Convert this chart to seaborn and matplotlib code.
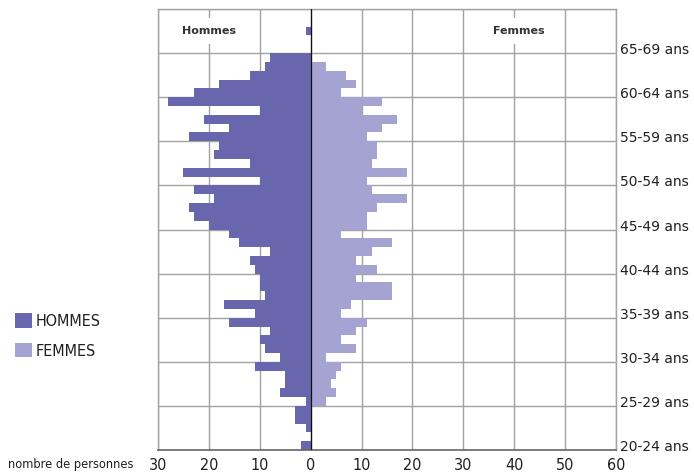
import numpy as np
import pandas as pd
import matplotlib
matplotlib.use('Agg')
import matplotlib.pyplot as plt
from matplotlib import font_manager
from matplotlib.patches import Patch
import seaborn as sns

ages = list(range(20, 70))
hommes = [2, 0, 1, 3, 3,
          1, 6, 5, 5, 11,
          6, 9, 10, 8, 16,
          11, 17, 9, 10, 10,
          11, 12, 8, 14, 16,
          20, 23, 24, 19, 23,
          10, 25, 12, 19, 18,
          24, 16, 21, 10, 28,
          23, 18, 12, 9, 8,
          0, 0, 1, 0, 0]
femmes = [0, 0, 0, 0, 0,
          3, 5, 4, 5, 6,
          3, 9, 6, 9, 11,
          6, 8, 16, 16, 9,
          13, 9, 12, 16, 6,
          11, 11, 13, 19, 12,
          11, 19, 12, 13, 13,
          11, 14, 17, 10, 14,
          6, 9, 7, 3, 0,
          0, 0, 0, 0, 0]
age_groups = ['20-24 ans', '25-29 ans', '30-34 ans', '35-39 ans', '40-44 ans',
              '45-49 ans', '50-54 ans', '55-59 ans', '60-64 ans', '65-69 ans']
x_ticks = [-30, -20, -10, 0, 10, 20, 30, 40, 50, 60]

df = pd.DataFrame({'age': ages,
                   'hommes': [-v for v in hommes],
                   'femmes': femmes})

col_h = '#6866ac'
col_f = '#a5a3d1'
grid_col = '#a3a3a3'
txt_col = '#231f20'

sns.set_style('white')
plt.rcParams['font.family'] = ['DejaVu Sans']

# the original uses a condensed face; take one if the system has it
narrow_file = None
for f in font_manager.fontManager.ttflist:
    is_narrow = ('Narrow' in f.name or 'Condensed' in f.name
                 or f.stretch in ('condensed', 'semi-condensed'))
    if is_narrow and f.weight in ('normal', 400, 'regular') and f.style == 'normal':
        narrow_file = f.fname
        break


def narrow(size):
    if narrow_file:
        return font_manager.FontProperties(fname=narrow_file, size=size)
    return font_manager.FontProperties(family='DejaVu Sans', size=size * 0.9)


fig, ax = plt.subplots(figsize=(6.94, 4.74), dpi=100)
fig.subplots_adjust(left=0.2277, right=0.8876, top=0.981, bottom=0.0506)

sns.barplot(data=df, x='hommes', y='age', orient='y', native_scale=True,
            width=1, color=col_h, saturation=1, linewidth=0, errorbar=None,
            ax=ax, zorder=2)
sns.barplot(data=df, x='femmes', y='age', orient='y', native_scale=True,
            width=1, color=col_f, saturation=1, linewidth=0, errorbar=None,
            ax=ax, zorder=2)

ax.set_xlim(-30, 60)
ax.set_ylim(19.5, 69.5)
ax.set_xlabel('')
ax.set_ylabel('')

# grid: vertical every 10, horizontal between age groups
ax.set_xticks(x_ticks)
ax.set_xticklabels([str(abs(v)) for v in x_ticks])
ax.set_yticks(list(range(20, 70, 5)))
ax.set_yticklabels(age_groups)
ax.set_yticks(np.arange(19.5, 70, 5), minor=True)
for lab in ax.get_xticklabels() + ax.get_yticklabels():
    lab.set_fontproperties(narrow(11.5))
ax.yaxis.tick_right()
ax.tick_params(axis='y', which='both', length=0, pad=3, colors=txt_col)
ax.tick_params(axis='x', length=4, width=1, color='#777777', pad=1.5,
               labelcolor=txt_col, direction='out')
ax.xaxis.grid(True, color=grid_col, linewidth=1.0, zorder=0)
ax.yaxis.grid(True, which='minor', color=grid_col, linewidth=1.0, zorder=0)
ax.set_axisbelow(True)
ax.axvline(0, color='#111111', linewidth=0.9, zorder=3)

for side in ['top', 'left', 'right']:
    ax.spines[side].set_color(grid_col)
    ax.spines[side].set_linewidth(1.0)
ax.spines['bottom'].set_color('#666666')
ax.spines['bottom'].set_linewidth(1.2)

# panel titles
box = dict(facecolor='white', edgecolor='none', pad=6)
ax.text(-20, 67, 'Hommes', ha='center', va='center', fontsize=8, fontweight='bold',
        color='#333333', bbox=box, zorder=4)
ax.text(41, 67, 'Femmes', ha='center', va='center', fontsize=8, fontweight='bold',
        color='#333333', bbox=box, zorder=4)

handles = [Patch(facecolor=col_h, edgecolor='none'),
           Patch(facecolor=col_f, edgecolor='none')]
fig.legend(handles, ['HOMMES', 'FEMMES'], loc='upper left',
           bbox_to_anchor=(0.0105, 0.356), frameon=False, prop=narrow(11.5),
           handlelength=1.05, handleheight=1.05, handletextpad=0.25,
           labelspacing=0.85, borderpad=0, labelcolor=txt_col)

fig.text(0.011, 0.019, 'nombre de personnes', fontproperties=narrow(9.2),
         color=txt_col, ha='left', va='center')

plt.savefig('out.png', dpi=100)
